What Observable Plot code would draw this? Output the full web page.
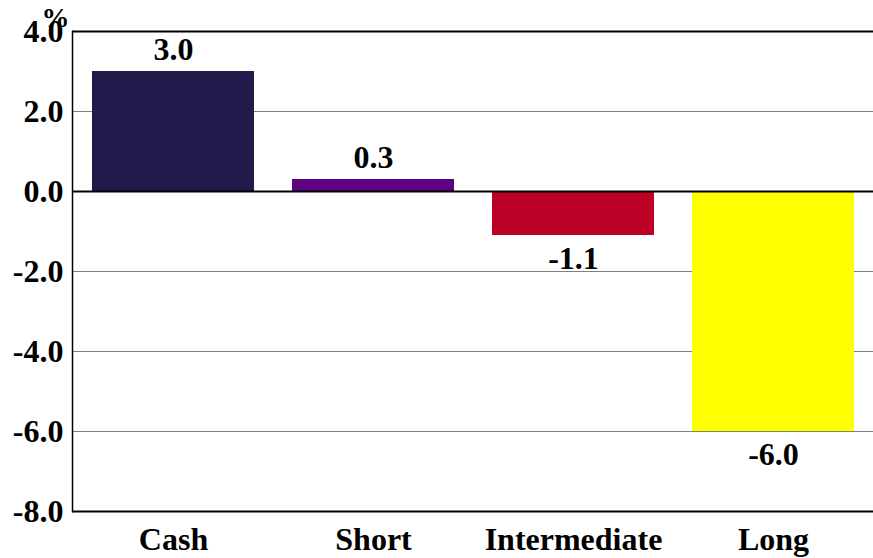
<!DOCTYPE html>
<html>
<head>
<meta charset="utf-8">
<script src="https://cdn.jsdelivr.net/npm/d3@7"></script>
<script src="https://cdn.jsdelivr.net/npm/@observablehq/plot@0.6"></script>
<style>
  html, body { margin: 0; padding: 0; background: #fff; }
</style>
</head>
<body>
<div id="chart"></div>
<script>
const categories = ["Cash", "Short", "Intermediate", "Long"];
const values = [3.0, 0.3, -1.1, -6.0];
const colors = ["#211a4b", "#5f0080", "#bd0026", "#ffff00"];
const yTicks = [-8, -6, -4, -2, 0, 2, 4];
const unitLabel = "%";

const data = categories.map((c, i) => ({category: c, value: values[i], color: colors[i]}));
const font = "'Liberation Serif', 'Times New Roman', Times, serif";
const fmt = d => d.toFixed(1);

const chart = Plot.plot({
  width: 873,
  height: 558,
  marginLeft: 72,
  marginRight: 0,
  marginTop: 31,
  marginBottom: 47,
  style: {fontFamily: font, fontSize: "32px", fontWeight: "bold", background: "#fff", color: "#000"},
  x: {domain: categories, paddingInner: 0.19, paddingOuter: 0.095, label: null},
  y: {domain: [-8, 4], label: null},
  marks: [
    Plot.ruleY(yTicks.filter(d => d !== 0 && d !== 4 && d !== -8), {stroke: "#808080", strokeWidth: 1}),
    Plot.barY(data, {x: "category", y: "value", fill: "color"}),
    Plot.ruleY([0], {stroke: "#000", strokeWidth: 2}),
    Plot.ruleY([4, -8], {stroke: "#000", strokeWidth: 2}),
    Plot.frame({anchor: "left", stroke: "#000", strokeWidth: 1.5}),
    Plot.axisY({ticks: yTicks, tickSize: 0, tickPadding: 9, tickFormat: fmt, fontSize: 32, fontWeight: "bold", label: null}),
    Plot.axisX({tickSize: 0, tickPadding: 16, fontSize: 32, fontWeight: "bold", label: null}),
    Plot.text(data.filter(d => d.value >= 0), {x: "category", y: "value", text: d => fmt(d.value), lineAnchor: "bottom", dy: -12, fontSize: 32, fontWeight: "bold", fill: "#000"}),
    Plot.text(data.filter(d => d.value < 0), {x: "category", y: "value", text: d => fmt(d.value), lineAnchor: "top", dy: 11, fontSize: 32, fontWeight: "bold", fill: "#000"}),
    Plot.text([unitLabel], {frameAnchor: "top-left", text: d => d, dx: -17, dy: -5, lineAnchor: "bottom", textAnchor: "middle", fontSize: 28, fontWeight: "bold", fill: "#000"})
  ]
});
document.getElementById("chart").appendChild(chart);
</script>
</body>
</html>
